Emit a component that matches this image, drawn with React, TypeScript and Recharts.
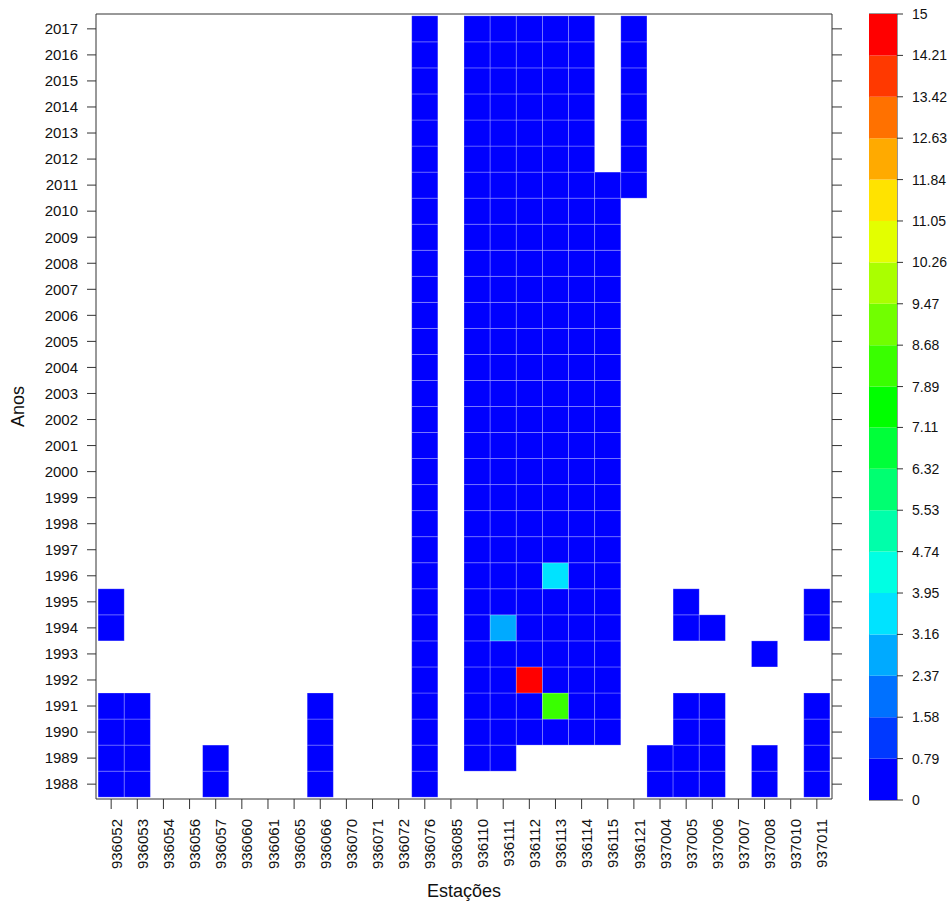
import React from "react";
import {
  ScatterChart,
  Scatter,
  XAxis,
  YAxis,
  Label,
  BarChart,
  Bar,
  ReferenceArea
} from "recharts";

const stations = [
  "936052", "936053", "936054", "936056", "936057", "936060", "936061",
  "936065", "936066", "936070", "936071", "936072", "936076", "936085",
  "936110", "936111", "936112", "936113", "936114", "936115", "936121",
  "937004", "937005", "937006", "937007", "937008", "937010", "937011"
];

const years = [
  1988, 1989, 1990, 1991, 1992, 1993, 1994, 1995, 1996, 1997,
  1998, 1999, 2000, 2001, 2002, 2003, 2004, 2005, 2006, 2007,
  2008, 2009, 2010, 2011, 2012, 2013, 2014, 2015, 2016, 2017
];

// station, first year, last year with data
const coverage: [string, number, number][] = [
  ["936052", 1988, 1991],
  ["936052", 1994, 1995],
  ["936053", 1988, 1991],
  ["936057", 1988, 1989],
  ["936066", 1988, 1991],
  ["936076", 1988, 2017],
  ["936110", 1989, 2017],
  ["936111", 1989, 2017],
  ["936112", 1990, 2017],
  ["936113", 1990, 2017],
  ["936114", 1990, 2017],
  ["936115", 1990, 2011],
  ["936121", 2011, 2017],
  ["937004", 1988, 1989],
  ["937005", 1988, 1991],
  ["937005", 1994, 1995],
  ["937006", 1988, 1991],
  ["937006", 1994, 1994],
  ["937008", 1988, 1989],
  ["937008", 1993, 1993],
  ["937011", 1988, 1991],
  ["937011", 1994, 1995]
];

// most cells fall in the lowest class
const lowValue = 0.3;

const peaks = [
  { station: "936111", year: 1994, value: 2.8 },
  { station: "936112", year: 1992, value: 15 },
  { station: "936113", year: 1991, value: 8.3 },
  { station: "936113", year: 1996, value: 3.6 }
];

const breaks = [
  0, 0.79, 1.58, 2.37, 3.16, 3.95, 4.74, 5.53, 6.32, 7.11,
  7.89, 8.68, 9.47, 10.26, 11.05, 11.84, 12.63, 13.42, 14.21, 15
];

const palette = [
  "#0000FF", "#0039FF", "#0071FF", "#00AAFF", "#00E3FF", "#00FFE3", "#00FFAA",
  "#00FF71", "#00FF39", "#00FF00", "#39FF00", "#71FF00", "#AAFF00", "#E3FF00",
  "#FFE300", "#FFAA00", "#FF7100", "#FF3900", "#FF0000"
];

const FONT = '"Liberation Sans", Arial, Helvetica, sans-serif';
const PLOT = { left: 96, top: 14, right: 832, bottom: 799 };
const X_DOMAIN: [number, number] = [-0.58, 27.58];
const Y_DOMAIN: [number, number] = [1987.43, 2017.57];
const cellW = (PLOT.right - PLOT.left) / (X_DOMAIN[1] - X_DOMAIN[0]);
const cellH = (PLOT.bottom - PLOT.top) / (Y_DOMAIN[1] - Y_DOMAIN[0]);

const cells = coverage.flatMap(([st, from, to]) =>
  years
    .filter((y) => y >= from && y <= to)
    .map((y) => {
      const p = peaks.find((k) => k.station === st && k.year === y);
      return { x: stations.indexOf(st), y, v: p ? p.value : lowValue };
    })
);

const colorFor = (v: number) => {
  const i = breaks.findIndex((b, k) => k > 0 && v <= b);
  return palette[Math.max(0, i - 1)];
};

const scaleRow: Record<string, number | string> = { name: "scale" };
palette.forEach((_, i) => {
  scaleRow["b" + i] = breaks[i + 1] - breaks[i];
});

const HeatCell = (props: any) => {
  const { cx, cy, payload } = props;
  return (
    <rect
      x={cx - cellW / 2}
      y={cy - cellH / 2}
      width={cellW}
      height={cellH}
      fill={colorFor(payload.v)}
      stroke="#ffffff"
      strokeOpacity={0.3}
      strokeWidth={0.8}
    />
  );
};

const axisStroke = "#333";
const tickStyle = { fontSize: 15, fill: "#111", fontFamily: FONT };
const blank = () => "";

export default function App() {
  return (
    <div style={{ position: "absolute", left: 0, top: 0, width: 952, height: 911, background: "#fff" }}>
      <ScatterChart
        width={952}
        height={911}
        margin={{ top: 4, right: 110, bottom: 7, left: 16 }}
        style={{ position: "absolute", left: 0, top: 0 }}
      >
        <XAxis
          dataKey="x"
          type="number"
          domain={X_DOMAIN}
          ticks={stations.map((_, i) => i)}
          interval={0}
          allowDataOverflow
          tickFormatter={(i: number) => stations[i]}
          height={105}
          tickSize={10}
          tickMargin={10}
          stroke={axisStroke}
          tick={{ ...tickStyle, angle: -90, textAnchor: "end", verticalAnchor: "middle" }}
        >
          <Label
            value="Estações"
            position="insideBottom"
            offset={7}
            style={{ fontSize: 18, fill: "#111", fontFamily: FONT }}
          />
        </XAxis>
        <XAxis
          xAxisId="top"
          orientation="top"
          type="number"
          domain={X_DOMAIN}
          ticks={stations.map((_, i) => i)}
          interval={0}
          allowDataOverflow
          tickFormatter={blank}
          height={10}
          tickSize={10}
          stroke={axisStroke}
        />
        <YAxis
          dataKey="y"
          type="number"
          domain={Y_DOMAIN}
          ticks={years}
          interval={0}
          allowDataOverflow
          width={80}
          tickSize={9}
          tickMargin={9}
          stroke={axisStroke}
          tick={tickStyle}
        >
          <Label
            value="Anos"
            angle={-90}
            position="insideLeft"
            offset={2}
            style={{ fontSize: 18, fill: "#111", fontFamily: FONT, textAnchor: "middle" }}
          />
        </YAxis>
        <YAxis
          yAxisId="right"
          orientation="right"
          type="number"
          domain={Y_DOMAIN}
          ticks={years}
          interval={0}
          allowDataOverflow
          width={10}
          tickSize={10}
          tickFormatter={blank}
          stroke={axisStroke}
        />
        <Scatter data={cells} shape={HeatCell} isAnimationActive={false} />
      </ScatterChart>

      <BarChart
        width={83}
        height={911}
        data={[scaleRow]}
        margin={{ top: 14, right: 0, bottom: 111, left: 0 }}
        barCategoryGap={0}
        style={{ position: "absolute", left: 869, top: 0 }}
      >
        <XAxis dataKey="name" hide />
        <YAxis
          orientation="right"
          type="number"
          domain={[0, 15]}
          ticks={breaks}
          interval={0}
          allowDataOverflow
          width={55}
          axisLine={false}
          tickSize={6}
          tickMargin={9}
          tickLine={{ stroke: axisStroke }}
          tick={{ fontSize: 14, fill: "#111", fontFamily: FONT }}
        />
        {palette.map((c, i) => (
          <Bar key={c} dataKey={"b" + i} stackId="scale" fill={c} isAnimationActive={false} />
        ))}
        <ReferenceArea y1={0} y2={15} fill="none" stroke={axisStroke} strokeWidth={1} />
      </BarChart>
    </div>
  );
}
